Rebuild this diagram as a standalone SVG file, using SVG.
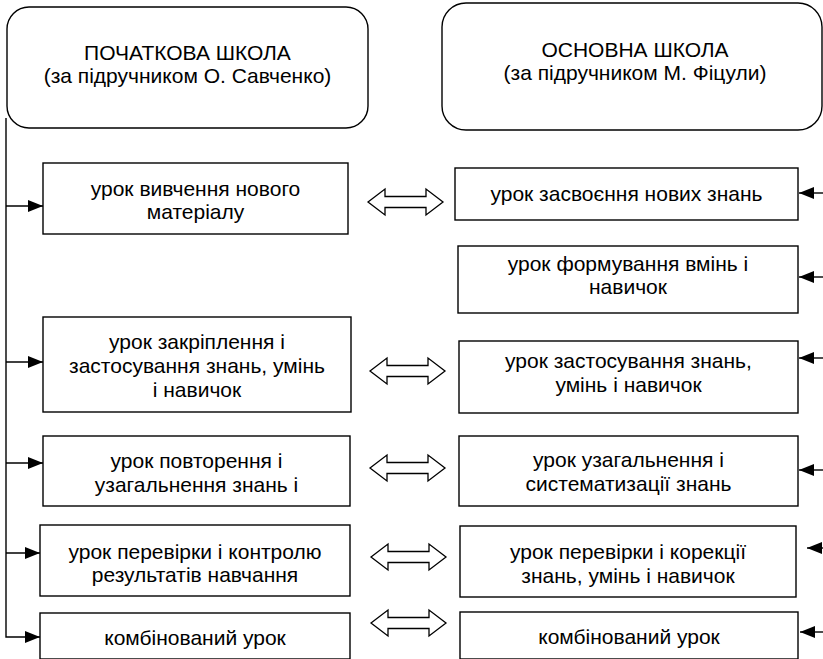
<svg xmlns="http://www.w3.org/2000/svg" width="823" height="659" viewBox="0 0 823 659">
<defs>
<style>
.box{fill:#fff;stroke:#000;stroke-width:1.4}
.t{font-family:"Liberation Sans",Arial,sans-serif;font-size:21px;fill:#000;text-anchor:middle}
.ln{fill:none;stroke:#000;stroke-width:1.4}
.dbl{fill:#fff;stroke:#000;stroke-width:1.3;stroke-linejoin:miter}
</style>
<marker id="ah" viewBox="0 0 15 12" refX="15" refY="6" markerWidth="15" markerHeight="12" markerUnits="userSpaceOnUse" orient="auto">
<path d="M0,0 L15,6 L0,12 Z" fill="#000"/>
</marker>
<path id="da" d="M0,0 L17,-13 L17,-5.5 L58,-5.5 L58,-13 L75,0 L58,13 L58,5.5 L17,5.5 L17,13 Z"/>
</defs>

<g id="primary-header">
<rect class="box" x="7" y="7" width="361" height="121" rx="22" ry="22"/>
<text class="t" x="187.5" y="60">ПОЧАТКОВА ШКОЛА</text>
<text class="t" x="187.5" y="83">(за підручником О. Савченко)</text>
</g>
<g id="basic-header">
<rect class="box" x="442" y="3" width="380" height="127" rx="24" ry="24"/>
<text class="t" x="635" y="57">ОСНОВНА ШКОЛА</text>
<text class="t" x="635" y="80">(за підручником М. Фіцули)</text>
</g>

<g id="connectors">
<path class="ln" d="M6,118 V637 H40" marker-end="url(#ah)"/>
<path class="ln" d="M6,206 H43" marker-end="url(#ah)"/>
<path class="ln" d="M6,362 H43" marker-end="url(#ah)"/>
<path class="ln" d="M6,463 H43" marker-end="url(#ah)"/>
<path class="ln" d="M6,553 H40" marker-end="url(#ah)"/>
<path class="ln" d="M823,193 H799" marker-end="url(#ah)"/>
<path class="ln" d="M823,277 H799" marker-end="url(#ah)"/>
<path class="ln" d="M823,358 H799" marker-end="url(#ah)"/>
<path class="ln" d="M823,470 H799" marker-end="url(#ah)"/>
<path class="ln" d="M823,548 H807" marker-end="url(#ah)"/>
<path class="ln" d="M823,632 H800" marker-end="url(#ah)"/>
<use href="#da" class="dbl" x="368" y="202"/>
<use href="#da" class="dbl" x="370" y="371"/>
<use href="#da" class="dbl" x="370" y="468"/>
<use href="#da" class="dbl" x="371" y="557"/>
<use href="#da" class="dbl" x="371" y="623"/>
</g>

<g id="p1">
<rect class="box" x="43" y="163" width="305" height="71"/>
<text class="t" x="195.5" y="196">урок вивчення нового</text>
<text class="t" x="195.5" y="219">матеріалу</text>
</g>
<g id="p2">
<rect class="box" x="43" y="317" width="308" height="95"/>
<text class="t" x="197" y="349">урок закріплення і</text>
<text class="t" x="197" y="373">застосування знань, умінь</text>
<text class="t" x="197" y="397">і навичок</text>
</g>
<g id="p3">
<rect class="box" x="43" y="436" width="307" height="70"/>
<text class="t" x="196.5" y="468">урок повторення і</text>
<text class="t" x="196.5" y="492">узагальнення знань і</text>
</g>
<g id="p4">
<rect class="box" x="40" y="525" width="310" height="71"/>
<text class="t" x="195" y="559">урок перевірки і контролю</text>
<text class="t" x="195" y="582">результатів навчання</text>
</g>
<g id="p5">
<rect class="box" x="40" y="613" width="310" height="46"/>
<text class="t" x="195" y="645">комбінований урок</text>
</g>

<g id="b1">
<rect class="box" x="455" y="168" width="343" height="52"/>
<text class="t" x="626.5" y="201">урок засвоєння нових знань</text>
</g>
<g id="b2">
<rect class="box" x="458" y="246" width="340" height="67"/>
<text class="t" x="628" y="271">урок формування вмінь і</text>
<text class="t" x="628" y="294">навичок</text>
</g>
<g id="b3">
<rect class="box" x="459" y="341" width="339" height="72"/>
<text class="t" x="628.5" y="368">урок застосування знань,</text>
<text class="t" x="628.5" y="392">умінь і навичок</text>
</g>
<g id="b4">
<rect class="box" x="459" y="436" width="339" height="70"/>
<text class="t" x="628.5" y="467">урок узагальнення і</text>
<text class="t" x="628.5" y="491">систематизації знань</text>
</g>
<g id="b5">
<rect class="box" x="460" y="526" width="336" height="71"/>
<text class="t" x="628" y="559">урок перевірки і корекції</text>
<text class="t" x="628" y="583">знань, умінь і навичок</text>
</g>
<g id="b6">
<rect class="box" x="460" y="612" width="338" height="47"/>
<text class="t" x="629" y="644">комбінований урок</text>
</g>
</svg>
